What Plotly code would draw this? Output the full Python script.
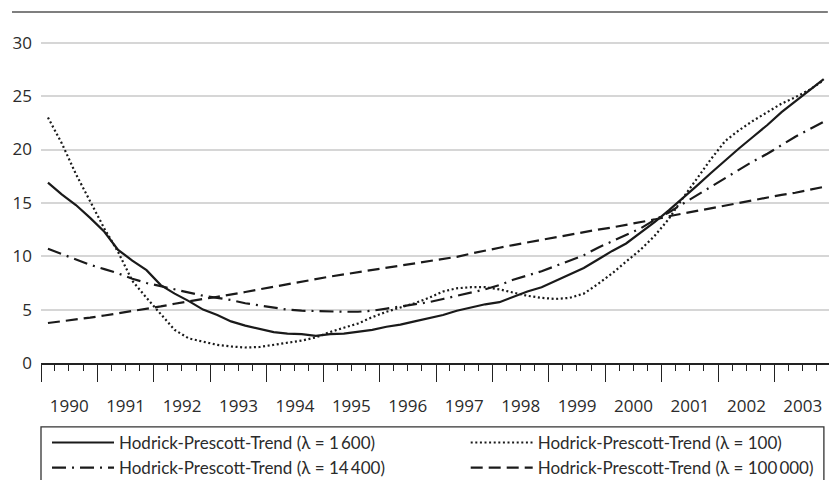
import plotly.graph_objects as go

years = list(range(1990, 2004))
quarter_months = [2, 5, 8, 11]
x_dates = [f"{y}-{m:02d}-15" for y in years for m in quarter_months]

hp_1600 = [16.9, 15.8, 14.8, 13.6, 12.3, 10.6, 9.6, 8.7, 7.3, 6.5, 5.8, 5.0, 4.5, 3.9,
           3.5, 3.2, 2.9, 2.75, 2.7, 2.55, 2.7, 2.75, 2.9, 3.1, 3.4, 3.6, 3.9, 4.2,
           4.5, 4.9, 5.2, 5.5, 5.7, 6.2, 6.7, 7.1, 7.7, 8.3, 8.9, 9.7, 10.5, 11.2,
           12.2, 13.2, 14.3, 15.4, 16.6, 17.8, 19.0, 20.1, 21.2, 22.3, 23.5, 24.5, 25.6, 26.6]
hp_100 = [23.0, 20.6, 17.7, 15.1, 12.6, 10.4, 7.7, 6.1, 4.6, 3.1, 2.3, 2.0, 1.7, 1.55,
          1.45, 1.5, 1.7, 1.9, 2.1, 2.4, 2.9, 3.3, 3.7, 4.3, 4.8, 5.2, 5.6, 6.1,
          6.7, 7.0, 7.1, 7.1, 6.9, 6.6, 6.3, 6.1, 6.0, 6.1, 6.5, 7.4, 8.4, 9.5,
          10.6, 11.9, 13.5, 15.4, 17.3, 19.1, 20.8, 21.8, 22.7, 23.5, 24.3, 24.9, 25.6, 26.5]
hp_14400 = [10.7, 10.2, 9.7, 9.2, 8.8, 8.4, 7.9, 7.5, 7.2, 6.9, 6.6, 6.3, 6.1, 5.9,
            5.6, 5.4, 5.2, 5.0, 4.9, 4.85, 4.8, 4.8, 4.8, 4.9, 5.1, 5.3, 5.5, 5.7,
            6.0, 6.3, 6.6, 6.9, 7.3, 7.8, 8.2, 8.6, 9.1, 9.6, 10.1, 10.8, 11.4, 12.0,
            12.6, 13.4, 14.1, 14.9, 15.7, 16.5, 17.3, 18.1, 18.9, 19.6, 20.4, 21.2, 21.9, 22.6]
hp_100000 = [3.75, 3.9, 4.05, 4.25, 4.45, 4.65, 4.9, 5.1, 5.3, 5.55, 5.8, 6.0, 6.2, 6.4,
             6.65, 6.9, 7.15, 7.4, 7.65, 7.9, 8.1, 8.3, 8.5, 8.7, 8.95, 9.15, 9.35, 9.5,
             9.75, 9.95, 10.25, 10.55, 10.8, 11.05, 11.3, 11.55, 11.8, 12.05, 12.3, 12.5, 12.7, 12.95,
             13.15, 13.45, 13.75, 14.0, 14.25, 14.5, 14.75, 15.0, 15.25, 15.5, 15.75, 15.95, 16.2, 16.5]

names = {
    "1600": "Hodrick-Prescott-Trend (λ = 1\u2009600)",
    "100": "Hodrick-Prescott-Trend (λ = 100)",
    "14400": "Hodrick-Prescott-Trend (λ = 14\u2009400)",
    "100000": "Hodrick-Prescott-Trend (λ = 100\u2009000)",
}

TICK_FONT = "Open Sans"
LEG_FONT = "Lato"
TXT = "#2b2b2b"
LINE = "#1a1a1a"

fig = go.Figure()
fig.add_trace(go.Scatter(x=x_dates, y=hp_1600, mode="lines", name=names["1600"],
                         line=dict(color=LINE, width=2.2), legend="legend"))
fig.add_trace(go.Scatter(x=x_dates, y=hp_14400, mode="lines", name=names["14400"],
                         line=dict(color=LINE, width=2.2, dash="14px,6px,2px,6px"), legend="legend"))
fig.add_trace(go.Scatter(x=x_dates, y=hp_100, mode="lines", name=names["100"],
                         line=dict(color=LINE, width=2.2, dash="2px,2.6px"), legend="legend2"))
fig.add_trace(go.Scatter(x=x_dates, y=hp_100000, mode="lines", name=names["100000"],
                         line=dict(color=LINE, width=2.2, dash="12px,6px"), legend="legend2"))

legend_common = dict(
    orientation="v", yanchor="top", xanchor="left",
    font=dict(family=LEG_FONT, size=17, color=TXT),
    bgcolor="rgba(0,0,0,0)", borderwidth=0, itemwidth=62,
    traceorder="normal",
)

# page body has an 8px margin, so the figure is 8px smaller than the window
fig.update_layout(
    width=829, height=472,
    margin=dict(l=33, r=6, t=22, b=117, autoexpand=False),
    paper_bgcolor="white", plot_bgcolor="white",
    font=dict(family=TICK_FONT, size=17, color=TXT),
    xaxis=dict(
        type="date",
        range=["1990-01-01", "2004-01-01"],
        dtick="M12", tick0="1990-01-01",
        tickformat="%Y", ticklabelmode="period",
        ticks="outside", ticklen=17, tickwidth=1.3, tickcolor="#222",
        showline=True, linecolor="#222", linewidth=1.5,
        showgrid=False, zeroline=False,
        ticklabelstandoff=10,
        tickfont=dict(family=TICK_FONT, size=17, color=TXT),
        minor=dict(dtick="M3", tick0="1990-01-01", ticks="outside", ticklen=6,
                   tickwidth=1.2, tickcolor="#222", showgrid=False),
    ),
    yaxis=dict(
        range=[0, 31.2],
        tickvals=[0, 5, 10, 15, 20, 25, 30],
        showgrid=True, gridcolor="#d6d6d6", gridwidth=1.5,
        zeroline=False, showline=False, ticks="",
        ticklabelstandoff=8,
        tickfont=dict(family=TICK_FONT, size=17, color=TXT),
    ),
    legend=dict(x=0.0076, y=-0.186, **legend_common),
    legend2=dict(x=0.5376, y=-0.186, **legend_common),
    showlegend=True,
    shapes=[
        dict(type="line", xref="paper", yref="paper", x0=-0.0367, x1=0.996, y0=1.054, y1=1.054,
             line=dict(color="#555", width=1.5)),
        dict(type="rect", xref="paper", yref="paper", x0=0.0, x1=0.991, y0=-0.192, y1=-0.40,
             line=dict(color="#333", width=1.3), fillcolor="rgba(0,0,0,0)"),
    ],
)

fig.write_html("out.html")
